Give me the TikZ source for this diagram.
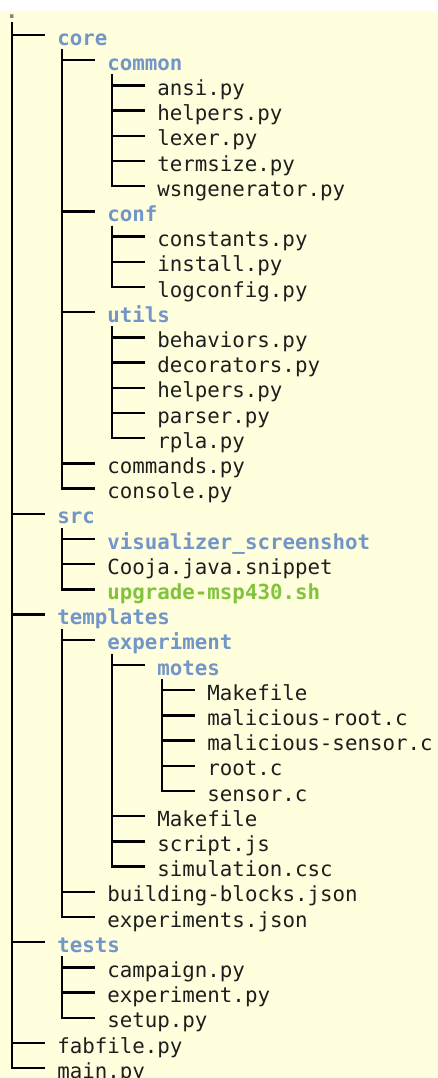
\documentclass[tikz,border=0pt]{standalone}
\usepackage{fontspec}
\setmonofont{DejaVu Sans Mono}
\usepackage{tikz}
\usetikzlibrary{positioning}
\usepackage{xcolor}
\definecolor{paperx}{HTML}{FFFFDD}
\definecolor{dirx}{HTML}{7396C8}
\definecolor{shx}{HTML}{82C33C}
\definecolor{filex}{HTML}{1E1E1E}

\begin{document}
\begin{tikzpicture}[
      x=0.75pt, y=-0.75pt,
      file/.style={anchor=west, inner xsep=9pt, inner ysep=3pt,
                   text height=15pt, text depth=0pt, text=filex,
                   font=\ttfamily\fontsize{15.6}{18}\selectfont},
      folder/.style={file, text=dirx, font=\ttfamily\bfseries\fontsize{15.6}{18}\selectfont},
      script/.style={file, text=shx, font=\ttfamily\bfseries\fontsize{15.6}{18}\selectfont},
      tree/.style={line width=1.9pt, draw=black}
    ]
    \fill[white] (0,0) rectangle (438,1078);
    \fill[paperx] (0,11) rectangle (438,1078);
    \useasboundingbox (0,0) rectangle (438,1078);

    \node[font=\ttfamily\bfseries\fontsize{15.6}{18}\selectfont, text=gray, inner sep=0pt, anchor=base] (root) at (12,18) {.};

    \node[folder] (core)       at (45,35)    {core};
    \node[folder] (common)     at (95,60.2)  {common};
    \node[file]   (ansi)       at (145,85.4) {ansi.py};
    \node[file]   (helpersA)   at (145,110.6) {helpers.py};
    \node[file]   (lexer)      at (145,135.8) {lexer.py};
    \node[file]   (termsize)   at (145,161)  {termsize.py};
    \node[file]   (wsngen)     at (145,186.2) {wsngenerator.py};
    \node[folder] (conf)       at (95,211.4) {conf};
    \node[file]   (constants)  at (145,236.6) {constants.py};
    \node[file]   (install)    at (145,261.8) {install.py};
    \node[file]   (logconfig)  at (145,287)  {logconfig.py};
    \node[folder] (utils)      at (95,312.2) {utils};
    \node[file]   (behaviors)  at (145,337.4) {behaviors.py};
    \node[file]   (decorators) at (145,362.6) {decorators.py};
    \node[file]   (helpersB)   at (145,387.8) {helpers.py};
    \node[file]   (parser)     at (145,413)  {parser.py};
    \node[file]   (rpla)       at (145,438.2) {rpla.py};
    \node[file]   (commands)   at (95,463.4) {commands.py};
    \node[file]   (console)    at (95,488.6) {console.py};
    \node[folder] (src)        at (45,513.8) {src};
    \node[folder] (visshot)    at (95,539)   {visualizer\_screenshot};
    \node[file]   (cooja)      at (95,564.2) {Cooja.java.snippet};
    \node[script] (upgrade)    at (95,589.4) {upgrade-msp430.sh};
    \node[folder] (templates)  at (45,614.6) {templates};
    \node[folder] (experiment) at (95,639.8) {experiment};
    \node[folder] (motes)      at (145,665)  {motes};
    \node[file]   (makeA)      at (195,690.2) {Makefile};
    \node[file]   (malroot)    at (195,715.4) {malicious-root.c};
    \node[file]   (malsensor)  at (195,740.6) {malicious-sensor.c};
    \node[file]   (rootc)      at (195,765.8) {root.c};
    \node[file]   (sensorc)    at (195,791)  {sensor.c};
    \node[file]   (makeB)      at (145,816.2) {Makefile};
    \node[file]   (scriptjs)   at (145,841.4) {script.js};
    \node[file]   (simcsc)     at (145,866.6) {simulation.csc};
    \node[file]   (blocks)     at (95,891.8) {building-blocks.json};
    \node[file]   (expjson)    at (95,917)   {experiments.json};
    \node[folder] (tests)      at (45,942.2) {tests};
    \node[file]   (campaign)   at (95,967.4) {campaign.py};
    \node[file]   (exppy)      at (95,992.6) {experiment.py};
    \node[file]   (setup)      at (95,1017.8) {setup.py};
    \node[file]   (fabfile)    at (45,1043)  {fabfile.py};
    \node[file]   (mainpy)     at (45,1068.2) {main.py};

    % top level
    \draw[tree] ([yshift=-3pt]root.south) |- (core.west);
    \draw[tree] ([yshift=-3pt]root.south) |- (src.west);
    \draw[tree] ([yshift=-3pt]root.south) |- (templates.west);
    \draw[tree] ([yshift=-3pt]root.south) |- (tests.west);
    \draw[tree] ([yshift=-3pt]root.south) |- (fabfile.west);
    \draw[tree] ([yshift=-3pt]root.south) |- (mainpy.west);
    % core
    \draw[tree] ([xshift=12.75pt]core.south west) |- (common.west);
    \draw[tree] ([xshift=12.75pt]core.south west) |- (conf.west);
    \draw[tree] ([xshift=12.75pt]core.south west) |- (utils.west);
    \draw[tree] ([xshift=12.75pt]core.south west) |- (commands.west);
    \draw[tree] ([xshift=12.75pt]core.south west) |- (console.west);
    \draw[tree] ([xshift=12.75pt]common.south west) |- (ansi.west);
    \draw[tree] ([xshift=12.75pt]common.south west) |- (helpersA.west);
    \draw[tree] ([xshift=12.75pt]common.south west) |- (lexer.west);
    \draw[tree] ([xshift=12.75pt]common.south west) |- (termsize.west);
    \draw[tree] ([xshift=12.75pt]common.south west) |- (wsngen.west);
    \draw[tree] ([xshift=12.75pt]conf.south west) |- (constants.west);
    \draw[tree] ([xshift=12.75pt]conf.south west) |- (install.west);
    \draw[tree] ([xshift=12.75pt]conf.south west) |- (logconfig.west);
    \draw[tree] ([xshift=12.75pt]utils.south west) |- (behaviors.west);
    \draw[tree] ([xshift=12.75pt]utils.south west) |- (decorators.west);
    \draw[tree] ([xshift=12.75pt]utils.south west) |- (helpersB.west);
    \draw[tree] ([xshift=12.75pt]utils.south west) |- (parser.west);
    \draw[tree] ([xshift=12.75pt]utils.south west) |- (rpla.west);
    % src
    \draw[tree] ([xshift=12.75pt]src.south west) |- (visshot.west);
    \draw[tree] ([xshift=12.75pt]src.south west) |- (cooja.west);
    \draw[tree] ([xshift=12.75pt]src.south west) |- (upgrade.west);
    % templates
    \draw[tree] ([xshift=12.75pt]templates.south west) |- (experiment.west);
    \draw[tree] ([xshift=12.75pt]templates.south west) |- (blocks.west);
    \draw[tree] ([xshift=12.75pt]templates.south west) |- (expjson.west);
    \draw[tree] ([xshift=12.75pt]experiment.south west) |- (motes.west);
    \draw[tree] ([xshift=12.75pt]experiment.south west) |- (makeB.west);
    \draw[tree] ([xshift=12.75pt]experiment.south west) |- (scriptjs.west);
    \draw[tree] ([xshift=12.75pt]experiment.south west) |- (simcsc.west);
    \draw[tree] ([xshift=12.75pt]motes.south west) |- (makeA.west);
    \draw[tree] ([xshift=12.75pt]motes.south west) |- (malroot.west);
    \draw[tree] ([xshift=12.75pt]motes.south west) |- (malsensor.west);
    \draw[tree] ([xshift=12.75pt]motes.south west) |- (rootc.west);
    \draw[tree] ([xshift=12.75pt]motes.south west) |- (sensorc.west);
    % tests
    \draw[tree] ([xshift=12.75pt]tests.south west) |- (campaign.west);
    \draw[tree] ([xshift=12.75pt]tests.south west) |- (exppy.west);
    \draw[tree] ([xshift=12.75pt]tests.south west) |- (setup.west);
  \end{tikzpicture}
\end{document}
